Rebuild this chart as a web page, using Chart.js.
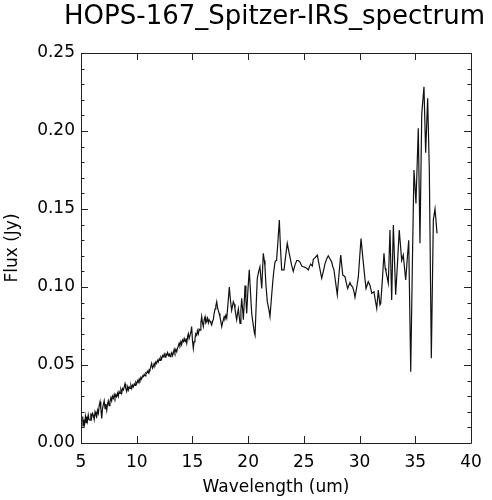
<!DOCTYPE html>
<html>
<head>
<meta charset="utf-8">
<script src="https://cdn.jsdelivr.net/npm/chart.js@4.4.1/dist/chart.umd.min.js"></script>
<style>
  body { margin: 0; background: #fff; }
  canvas { display: block; }
</style>
</head>
<body>
<canvas id="spectrum" width="492" height="500"></canvas>
<script>
// Spectrum values
const wavelength = [
  5.15, 5.18, 5.25, 5.32, 5.40, 5.46, 5.51, 5.58, 5.65, 5.72, 5.81, 5.88, 5.95, 6.03, 6.10, 6.18,
  6.26, 6.34, 6.41, 6.48, 6.56, 6.63, 6.71, 6.78, 6.86, 6.93, 7.00, 7.08, 7.16, 7.23, 7.31, 7.38,
  7.45, 7.52, 7.60, 7.68, 7.75, 7.82, 7.90, 7.98, 8.05, 8.12, 8.20, 8.28, 8.35, 8.42, 8.50, 8.58,
  8.65, 8.72, 8.80, 8.88, 8.95, 9.02, 9.10, 9.18, 9.25, 9.32, 9.40, 9.48, 9.55, 9.62, 9.69, 9.78,
  9.85, 9.92, 10.00, 10.08, 10.15, 10.22, 10.29, 10.37, 10.44, 10.52, 10.59, 10.67, 10.75, 10.82,
  10.90, 10.97, 11.05, 11.12, 11.19, 11.26, 11.34, 11.42, 11.49, 11.57, 11.64, 11.72, 11.79, 11.87,
  11.94, 12.02, 12.09, 12.17, 12.24, 12.32, 12.39, 12.47, 12.54, 12.62, 12.69, 12.77, 12.84, 12.92,
  12.99, 13.07, 13.14, 13.21, 13.28, 13.36, 13.43, 13.51, 13.59, 13.66, 13.73, 13.81, 13.88, 13.96,
  14.03, 14.11, 14.18, 14.26, 14.34, 14.41, 14.49, 14.56, 14.63, 14.70, 14.78, 14.86, 14.93, 15.00,
  15.08, 15.15, 15.23, 15.30, 15.38, 15.45, 15.53, 15.60, 15.68, 15.76, 15.83, 15.90, 15.98, 16.05,
  16.13, 16.20, 16.28, 16.36, 16.43, 16.50, 16.58, 16.65, 16.73, 16.80, 16.87, 16.95, 17.03, 17.10,
  17.18, 17.25, 17.32, 17.40, 17.47, 17.55, 17.63, 17.70, 17.78, 17.85, 17.92, 18.00, 18.08, 18.20,
  18.31, 18.42, 18.52, 18.60, 18.67, 18.75, 18.82, 18.90, 18.97, 19.05, 19.12, 19.20, 19.27, 19.35,
  19.42, 19.50, 19.57, 19.65, 19.72, 19.80, 19.87, 19.98, 20.10, 20.20, 20.32, 20.45, 20.55, 20.62,
  20.72, 20.82, 20.95, 21.06, 21.15, 21.22, 21.30, 21.36, 21.45, 21.51, 21.60, 21.72, 21.85, 21.96,
  22.08, 22.20, 22.30, 22.41, 22.50, 22.56, 22.68, 22.80, 22.90, 23.01, 23.12, 23.22, 23.35, 23.51,
  23.62, 23.76, 23.90, 24.05, 24.20, 24.36, 24.50, 24.65, 24.81, 24.95, 25.10, 25.25, 25.40, 25.50,
  25.61, 25.76, 25.85, 26.03, 26.21, 26.40, 26.60, 26.75, 26.90, 27.05, 27.19, 27.35, 27.50, 27.60,
  27.70, 27.85, 28.00, 28.15, 28.31, 28.40, 28.49, 28.69, 28.80, 28.93, 29.14, 29.25, 29.38, 29.50,
  29.59, 29.75, 29.89, 30.00, 30.13, 30.25, 30.40, 30.50, 30.58, 30.78, 30.94, 31.09, 31.29, 31.40,
  31.54, 31.68, 31.83, 31.90, 32.05, 32.19, 32.30, 32.37, 32.58, 32.73, 32.88, 33.03, 33.24, 33.40,
  33.56, 33.78, 33.92, 34.14, 34.30, 34.41, 34.59, 34.75, 34.88, 34.97, 35.06, 35.27, 35.42, 35.58,
  35.78, 35.93, 36.11, 36.26, 36.44, 36.62, 36.77, 36.95
];
const flux = [
  0.017, 0.011, 0.015, 0.012, 0.017, 0.013, 0.017, 0.014, 0.018, 0.015, 0.0147, 0.019, 0.016, 0.019, 0.018, 0.015,
  0.020, 0.018, 0.017, 0.021, 0.019, 0.024, 0.0265, 0.022, 0.0158, 0.022, 0.0244, 0.027, 0.022, 0.025, 0.021, 0.025,
  0.027, 0.024, 0.0265, 0.029, 0.027, 0.030, 0.0286, 0.031, 0.029, 0.031, 0.0297, 0.032, 0.030, 0.033, 0.0318, 0.034,
  0.032, 0.035, 0.034, 0.036, 0.038, 0.035, 0.033, 0.036, 0.034, 0.036, 0.035, 0.037, 0.035, 0.037, 0.036, 0.038,
  0.037, 0.039, 0.038, 0.040, 0.039, 0.041, 0.040, 0.042, 0.041, 0.043, 0.0425, 0.044, 0.043, 0.045,
  0.0447, 0.046, 0.045, 0.047, 0.0468, 0.049, 0.051, 0.048, 0.049, 0.051, 0.050, 0.052, 0.051, 0.053,
  0.052, 0.054, 0.053, 0.055, 0.054, 0.056, 0.0553, 0.057, 0.055, 0.057, 0.0564, 0.058, 0.056, 0.057,
  0.0553, 0.057, 0.058, 0.056, 0.0575, 0.060, 0.058, 0.060, 0.0585, 0.061, 0.062, 0.064, 0.0628, 0.065,
  0.063, 0.066, 0.065, 0.067, 0.065, 0.067, 0.064, 0.068, 0.070, 0.067, 0.067, 0.071, 0.0746, 0.066,
  0.0607, 0.065, 0.067, 0.070, 0.069, 0.072, 0.070, 0.073, 0.0724, 0.077, 0.081, 0.077, 0.0746, 0.079,
  0.081, 0.077, 0.078, 0.080, 0.077, 0.079, 0.078, 0.077, 0.0756, 0.078, 0.079, 0.083, 0.086, 0.088,
  0.0906, 0.087, 0.085, 0.083, 0.081, 0.078, 0.0746, 0.077, 0.079, 0.081, 0.080, 0.082, 0.080, 0.090,
  0.100, 0.091, 0.085, 0.088, 0.0906, 0.089, 0.086, 0.082, 0.079, 0.083, 0.086, 0.081, 0.0767, 0.085,
  0.0928, 0.086, 0.079, 0.090, 0.101, 0.092, 0.083, 0.098, 0.111, 0.098, 0.083, 0.076, 0.071, 0.069,
  0.088, 0.1056, 0.110, 0.113, 0.105, 0.099, 0.112, 0.1216, 0.117, 0.113, 0.101, 0.0906, 0.086, 0.081,
  0.092, 0.1024, 0.110, 0.116, 0.117, 0.118, 0.130, 0.143, 0.125, 0.111, 0.111, 0.111, 0.119, 0.128,
  0.124, 0.119, 0.114, 0.110, 0.114, 0.117, 0.117, 0.116, 0.1135, 0.113, 0.1126, 0.112, 0.111, 0.113,
  0.1147, 0.1135, 0.1177, 0.119, 0.1205, 0.113, 0.1056, 0.110, 0.115, 0.118, 0.120, 0.118, 0.116, 0.113,
  0.111, 0.103, 0.095, 0.108, 0.1205, 0.114, 0.1077, 0.1066, 0.103, 0.099, 0.1028, 0.101, 0.100, 0.097,
  0.0934, 0.100, 0.1066, 0.118, 0.131, 0.122, 0.111, 0.104, 0.099, 0.1034, 0.101, 0.096, 0.097, 0.092,
  0.0863, 0.098, 0.0885, 0.0895, 0.105, 0.1216, 0.112, 0.110, 0.1024, 0.1365, 0.0917, 0.1397, 0.095, 0.115,
  0.1365, 0.117, 0.1205, 0.1045, 0.120, 0.130, 0.0457, 0.120, 0.175, 0.165, 0.1536, 0.2017, 0.128, 0.211,
  0.2284, 0.186, 0.221, 0.175, 0.0543, 0.143, 0.150, 0.1344
];

// Axis ticks
const xTicks = [5, 10, 15, 20, 25, 30, 35, 40];
const yTicks = [0, 0.05, 0.10, 0.15, 0.20, 0.25];
const yMinorTicks = [0.01, 0.02, 0.03, 0.04, 0.06, 0.07, 0.08, 0.09, 0.11, 0.12, 0.13, 0.14,
                     0.16, 0.17, 0.18, 0.19, 0.21, 0.22, 0.23, 0.24];

const points = wavelength.map((w, i) => ({ x: w, y: flux[i] }));

// IDL style frame: box with ticks pointing inward on all four sides
const frame = {
    id: 'frame',
    afterDatasetsDraw(chart) {
        const ctx = chart.ctx;
        const a = chart.chartArea;
        const xs = chart.scales.x, ys = chart.scales.y;
        ctx.save();
        ctx.strokeStyle = '#222';
        ctx.lineWidth = 1;
        ctx.beginPath();
        ctx.rect(Math.round(a.left) + 0.5, Math.round(a.top) + 0.5,
                 Math.round(a.right - a.left), Math.round(a.bottom - a.top));
        xTicks.forEach(v => {
            const px = Math.round(xs.getPixelForValue(v)) + 0.5;
            ctx.moveTo(px, a.bottom); ctx.lineTo(px, a.bottom - 7);
            ctx.moveTo(px, a.top); ctx.lineTo(px, a.top + 7);
        });
        yTicks.forEach(v => {
            const py = Math.round(ys.getPixelForValue(v)) + 0.5;
            ctx.moveTo(a.left, py); ctx.lineTo(a.left + 7, py);
            ctx.moveTo(a.right, py); ctx.lineTo(a.right - 7, py);
        });
        yMinorTicks.forEach(v => {
            const py = Math.round(ys.getPixelForValue(v)) + 0.5;
            ctx.moveTo(a.left, py); ctx.lineTo(a.left + 3.5, py);
            ctx.moveTo(a.right, py); ctx.lineTo(a.right - 3.5, py);
        });
        ctx.stroke();
        ctx.restore();
    }
};

Chart.defaults.font.family = '"DejaVu Sans", sans-serif';
Chart.defaults.color = '#000';

new Chart(document.getElementById('spectrum').getContext('2d'), {
    type: 'line',
    data: {
        datasets: [{
            data: points,
            borderColor: '#111',
            borderWidth: 1.2,
            pointRadius: 0,
            tension: 0,
            fill: false
        }]
    },
    options: {
        responsive: false,
        animation: false,
        layout: { padding: { left: 0, right: 7, top: 0, bottom: 0 } },
        plugins: {
            legend: { display: false },
            tooltip: { enabled: false },
            title: {
                display: true,
                text: 'HOPS-167_Spitzer-IRS_spectrum',
                align: 'end',
                font: { size: 26, weight: 'normal' },
                color: '#000',
                padding: { top: 2, bottom: 19.8 }
            }
        },
        scales: {
            x: {
                type: 'linear',
                min: 5,
                max: 40,
                afterBuildTicks: s => { s.ticks = xTicks.map(v => ({ value: v })); },
                afterFit: s => { s.height = 57; },
                grid: { display: false, tickLength: 0 },
                border: { display: false },
                ticks: { font: { size: 17 }, padding: 9, maxRotation: 0, callback: v => String(v) },
                title: { display: true, text: 'Wavelength (um)', font: { size: 17 }, padding: { top: 0, bottom: 2 } }
            },
            y: {
                min: 0,
                max: 0.25,
                afterBuildTicks: s => { s.ticks = yTicks.map(v => ({ value: v })); },
                afterFit: s => { s.width = 81; },
                grid: { display: false, tickLength: 0 },
                border: { display: false },
                ticks: { font: { size: 17 }, padding: 6, callback: v => v.toFixed(2) },
                title: { display: true, text: 'Flux (Jy)', font: { size: 17 }, padding: { top: 2, bottom: 0 } }
            },
            // empty right margin so the "40" label has room
            yRight: {
                position: 'right',
                min: 0,
                max: 0.25,
                afterFit: s => { s.width = 14; },
                grid: { display: false },
                border: { display: false },
                ticks: { display: false }
            }
        }
    },
    plugins: [frame]
});
</script>
</body>
</html>
